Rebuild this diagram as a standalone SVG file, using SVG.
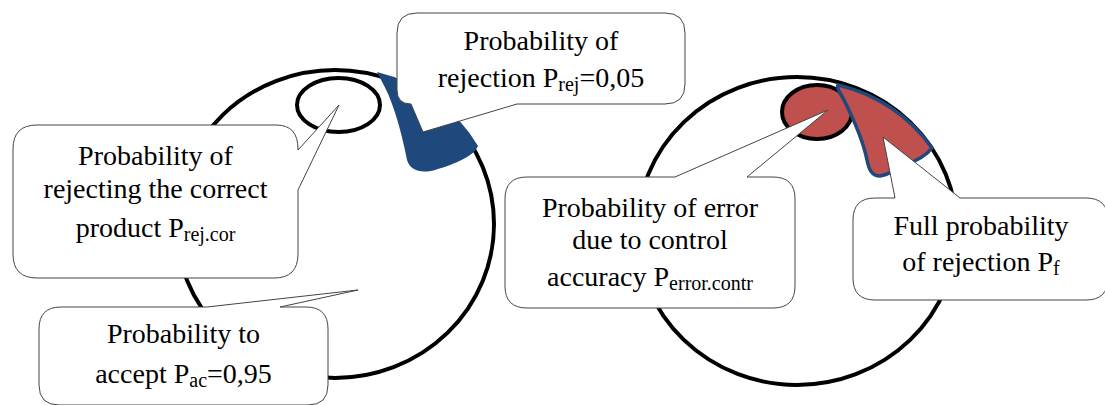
<svg xmlns="http://www.w3.org/2000/svg" width="1105" height="405" viewBox="0 0 1105 405">
<style>
.ring{fill:none;stroke:#000;stroke-width:4}
.call{fill:#fff;stroke:#444;stroke-width:1}
text{font-family:"Liberation Serif","Times New Roman",serif;font-size:28px;fill:#000;text-anchor:middle}
.sub{font-size:20px}
</style>
<rect width="1105" height="405" fill="#fff"/>
<g id="left-circle">
<ellipse class="ring" cx="335" cy="224" rx="159" ry="154"/>
<ellipse class="ring" cx="338.5" cy="105" rx="41.5" ry="27"/>
<path d="M377 72 A161 156 0 0 1 478 146 C474 156 455 164 435 170 C420 174 410 170 407 160 C403 140 398 120 392 104 C388 92 382 82 377 72 Z" fill="#1F497D"/>
</g>
<g id="right-circle">
<ellipse class="ring" cx="797" cy="231" rx="160" ry="154"/>
<ellipse cx="817" cy="112" rx="35" ry="27" fill="#C0504D" stroke="#000" stroke-width="4"/>
<path d="M838 85 A157 151 0 0 1 932 148 C926 156 916 161 905 165 C895 170 888 175 880 176 C872 176 869 170 867 160 C863 140 853 118 844 100 C840 92 836 88 838 85 Z" fill="#C0504D" stroke="#1F497D" stroke-width="3.5"/>
</g>
<g id="callout-rejection">
<path class="call" d="M397 33 Q397 13 417 13 H665 Q685 13 685 33 V84 Q685 104 665 104 H517 L423 132 L411 104 Q397 104 397 90 Z"/>
<text x="541" y="50">Probability of</text>
<text x="541" y="87">rejection P<tspan class="sub" dy="4">rej</tspan><tspan dy="-4">=0,05</tspan></text>
</g>
<g id="callout-rejecting-correct">
<path class="call" d="M13 149 Q13 125 37 125 H276 Q298 125 298 149 V150 L339 105 L298 190 V254 Q298 278 274 278 H37 Q13 278 13 254 Z"/>
<text x="155.5" y="165">Probability of</text>
<text x="155.5" y="198">rejecting the correct</text>
<text x="155.5" y="237">product P<tspan class="sub" dy="4">rej.cor</tspan></text>
</g>
<g id="callout-accept">
<path class="call" d="M39 329 Q39 307 61 307 H207 L358 290 L280 307 H306 Q328 307 328 329 V385 Q328 405 308 405 H59 Q39 405 39 385 Z"/>
<text x="183.5" y="343">Probability to</text>
<text x="183.5" y="383">accept P<tspan class="sub" dy="4">ac</tspan><tspan dy="-4">=0,95</tspan></text>
</g>
<g id="callout-error">
<path class="call" d="M505 199 Q505 177 527 177 H675 L828 110 L747 177 H773 Q795 177 795 199 V286 Q795 308 773 308 H527 Q505 308 505 286 Z"/>
<text x="650" y="217">Probability of error</text>
<text x="650" y="249">due to control</text>
<text x="650" y="286">accuracy P<tspan class="sub" dy="4">error.contr</tspan></text>
</g>
<g id="callout-full">
<path class="call" d="M853 220 Q853 198 875 198 H895 L883 137 L960 198 H1086 Q1108 198 1108 220 V278 Q1108 300 1086 300 H875 Q853 300 853 278 Z"/>
<text x="981" y="235">Full probability</text>
<text x="981" y="271">of rejection P<tspan class="sub" dy="4">f</tspan></text>
</g>
<g id="connectors"></g>
</svg>
